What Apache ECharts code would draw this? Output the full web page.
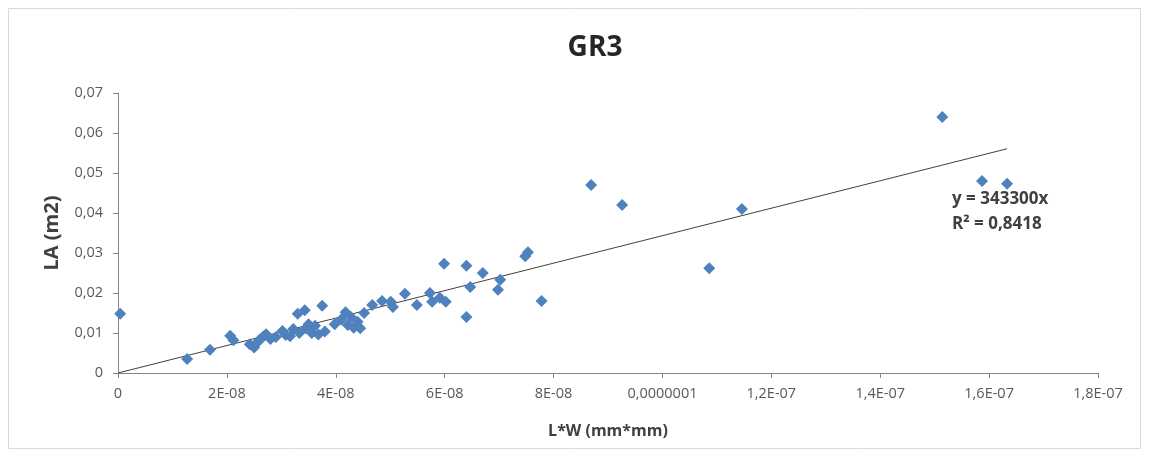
<!DOCTYPE html>
<html>
<head>
<meta charset="utf-8">
<script src="https://cdn.jsdelivr.net/npm/echarts@6/dist/echarts.min.js"></script>
<style>html,body{margin:0;padding:0;background:#fff}#c{width:1149px;height:455px}</style>
</head>
<body>
<div id="c"></div>
<script>
var title = 'GR3';
var xName = 'L*W (mm*mm)';
var yName = 'LA (m2)';
var xTickLabels = ['0', '2E-08', '4E-08', '6E-08', '8E-08', '0,0000001', '1,2E-07', '1,4E-07', '1,6E-07', '1,8E-07'];
var yTickLabels = ['0', '0,01', '0,02', '0,03', '0,04', '0,05', '0,06', '0,07'];
var trendSlope = 343300;
var equationText = 'y = 343300x';
var r2Text = 'R² = 0,8418';

var lw = [
  0.04e-8, 1.27e-8, 1.69e-8, 2.06e-8, 2.12e-8, 2.42e-8, 2.50e-8, 2.55e-8, 2.60e-8, 2.66e-8,
  2.72e-8, 2.80e-8, 2.90e-8, 3.02e-8, 3.08e-8, 3.16e-8, 3.22e-8, 3.30e-8, 3.33e-8, 3.43e-8,
  3.45e-8, 3.50e-8, 3.56e-8, 3.62e-8, 3.68e-8, 3.75e-8, 3.80e-8, 3.98e-8, 4.10e-8, 4.18e-8,
  4.22e-8, 4.28e-8, 4.33e-8, 4.40e-8, 4.45e-8, 4.52e-8, 4.67e-8, 4.85e-8, 5.01e-8, 5.05e-8,
  5.27e-8, 5.49e-8, 5.73e-8, 5.77e-8, 5.91e-8, 6.02e-8, 5.99e-8, 6.40e-8, 6.47e-8, 6.40e-8,
  6.70e-8, 7.02e-8, 6.98e-8, 7.48e-8, 7.53e-8, 7.78e-8, 8.69e-8, 9.26e-8, 10.86e-8, 11.46e-8,
  15.14e-8, 15.87e-8, 16.33e-8
];
var la = [
  0.0148, 0.0035, 0.0058, 0.0093, 0.0082, 0.0072, 0.0064, 0.0075, 0.0083, 0.0090,
  0.0097, 0.0085, 0.0090, 0.0105, 0.0095, 0.0092, 0.0110, 0.0148, 0.0100, 0.0157,
  0.0112, 0.0122, 0.0100, 0.0118, 0.0096, 0.0168, 0.0104, 0.0122, 0.0134, 0.0152,
  0.0120, 0.0140, 0.0113, 0.0128, 0.0112, 0.0150, 0.0170, 0.0180, 0.0178, 0.0165,
  0.0198, 0.0170, 0.0200, 0.0178, 0.0188, 0.0178, 0.0273, 0.0268, 0.0215, 0.0140,
  0.0250, 0.0233, 0.0208, 0.0292, 0.0302, 0.0180, 0.0470, 0.0420, 0.0262, 0.0410,
  0.0640, 0.0480, 0.0473
];

var points = lw.map(function (x, i) { return [x, la[i]]; });
var maxX = Math.max.apply(null, lw);
var trend = [[0, 0], [maxX, trendSlope * maxX]];

var chart = echarts.init(document.getElementById('c'), null, {renderer: 'canvas'});
var axisColor = '#868686';
var labelColor = '#595959';
var fontFam = '"Open Sans", "Liberation Sans", sans-serif';

chart.setOption({
  backgroundColor: '#ffffff',
  animation: false,
  title: {
    text: title,
    left: 590,
    top: 29,
    textAlign: 'center',
    textStyle: {fontFamily: fontFam, fontSize: 28, fontWeight: 'bold', color: '#262626'}
  },
  grid: {left: 118, right: 51, top: 93, bottom: 82, containLabel: false},
  xAxis: {
    type: 'value',
    min: 0,
    max: 1.8e-7,
    interval: 2e-8,
    name: xName,
    nameLocation: 'middle',
    nameGap: 50,
    nameTextStyle: {fontFamily: fontFam, fontSize: 16, fontWeight: 'bold', color: '#404040'},
    axisLine: {show: true, lineStyle: {color: axisColor, width: 1}},
    axisTick: {show: true, length: 5, inside: false, lineStyle: {color: axisColor}},
    splitLine: {show: false},
    axisLabel: {
      margin: 13,
      fontFamily: fontFam, fontSize: 14.5, color: labelColor,
      formatter: function (v) { return xTickLabels[Math.round(v / 2e-8)]; }
    }
  },
  yAxis: {
    type: 'value',
    min: 0,
    max: 0.07,
    interval: 0.01,
    name: yName,
    nameLocation: 'middle',
    nameGap: 56,
    nameTextStyle: {fontFamily: fontFam, fontSize: 20, fontWeight: 'bold', color: '#404040'},
    axisLine: {show: true, lineStyle: {color: axisColor, width: 1}},
    axisTick: {show: true, length: 5, inside: false, lineStyle: {color: axisColor}},
    splitLine: {show: false},
    axisLabel: {
      margin: 15,
      fontFamily: fontFam, fontSize: 14.5, color: labelColor,
      formatter: function (v) { return yTickLabels[Math.round(v / 0.01)]; }
    }
  },
  series: [
    {
      type: 'scatter',
      data: points,
      symbol: 'diamond',
      symbolSize: 12,
      itemStyle: {color: '#4F81BD', opacity: 1},
      z: 3
    },
    {
      type: 'line',
      data: trend,
      symbol: 'none',
      lineStyle: {color: '#404040', width: 1},
      z: 2,
      silent: true
    }
  ],
  graphic: [
    {
      type: 'rect',
      shape: {x: 8.5, y: 8.5, width: 1132, height: 440},
      style: {fill: 'none', stroke: '#d9d9d9', lineWidth: 1},
      silent: true
    },
    {
      type: 'text',
      left: 952,
      top: 191,
      style: {text: equationText, fontFamily: fontFam, fontSize: 17, fontWeight: 'bold', fill: '#404040'}
    },
    {
      type: 'text',
      left: 952,
      top: 216,
      style: {text: r2Text, fontFamily: fontFam, fontSize: 17, fontWeight: 'bold', fill: '#404040'}
    }
  ]
});
</script>
</body>
</html>
